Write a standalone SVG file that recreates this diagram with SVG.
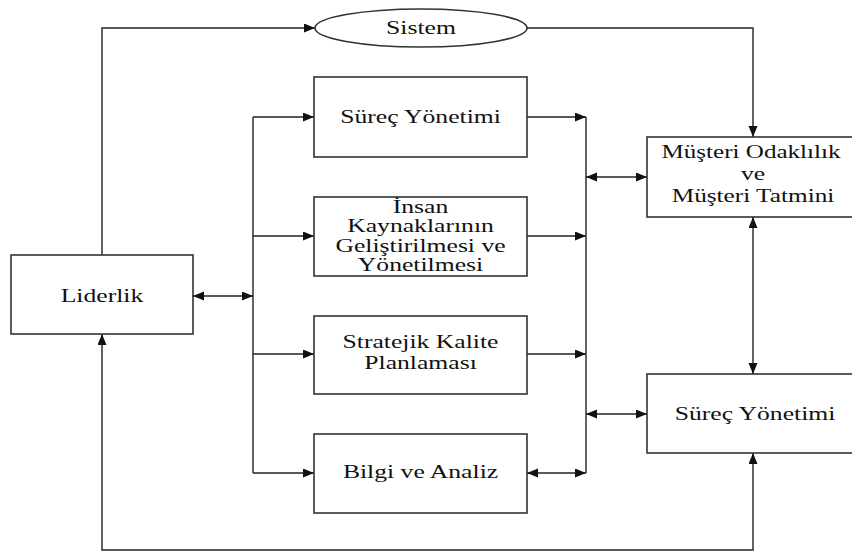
<svg xmlns="http://www.w3.org/2000/svg" width="852" height="552" viewBox="0 0 852 552">
<defs>
<marker id="ah" markerUnits="userSpaceOnUse" markerWidth="12" markerHeight="10" refX="11" refY="4.5" orient="auto-start-reverse">
<path d="M0,0 L11,4.5 L0,9 z" fill="#111"/>
</marker>
</defs>
<style>
.box{fill:#fff;stroke:#333;stroke-width:1.6}
.c{fill:none;stroke:#222;stroke-width:1.4}
.a{marker-end:url(#ah)}
.d{marker-start:url(#ah);marker-end:url(#ah)}
text{font-family:'Liberation Serif','Times New Roman',serif;font-size:19px;fill:#111;text-anchor:middle}
</style>
<rect width="852" height="552" fill="#fff"/>
<g id="connectors">
<path class="c a" d="M102,255 V28 H315"/>
<path class="c a" d="M527,28 H753 V137"/>
<path class="c" d="M253,117 V473"/>
<path class="c a" d="M253,117 H314"/>
<path class="c a" d="M253,236 H314"/>
<path class="c a" d="M253,354 H314"/>
<path class="c a" d="M253,473 H314"/>
<path class="c d" d="M193,296 H253"/>
<path class="c a" d="M527,117 H586"/>
<path class="c a" d="M527,236 H586"/>
<path class="c a" d="M527,354 H586"/>
<path class="c d" d="M527,473 H586"/>
<path class="c" d="M586,117 V473"/>
<path class="c d" d="M586,177 H647"/>
<path class="c d" d="M586,414 H647"/>
<path class="c d" d="M753,217 V374"/>
<path class="c d" d="M753,453 V550 H102 V334"/>
</g>
<g id="sistem">
<ellipse class="box" cx="421" cy="28" rx="106" ry="19"/>
<text transform="translate(421 34) scale(1.35 1)">Sistem</text>
</g>
<g id="surec-yonetimi-1">
<rect class="box" x="314" y="77" width="213" height="80"/>
<text transform="translate(420.5 123) scale(1.35 1)">Süreç Yönetimi</text>
</g>
<g id="insan-kaynaklari">
<rect class="box" x="314" y="197" width="213" height="79"/>
<text transform="translate(420.5 213) scale(1.35 1)">İnsan</text>
<text transform="translate(420.5 232) scale(1.35 1)">Kaynaklarının</text>
<text transform="translate(420.5 252) scale(1.35 1)">Geliştirilmesi ve</text>
<text transform="translate(420.5 271) scale(1.35 1)">Yönetilmesi</text>
</g>
<g id="stratejik">
<rect class="box" x="314" y="316" width="213" height="78"/>
<text transform="translate(420.5 348) scale(1.35 1)">Stratejik Kalite</text>
<text transform="translate(420.5 369) scale(1.35 1)">Planlaması</text>
</g>
<g id="bilgi">
<rect class="box" x="314" y="434" width="213" height="79"/>
<text transform="translate(420.5 478) scale(1.35 1)">Bilgi ve Analiz</text>
</g>
<g id="liderlik">
<rect class="box" x="11" y="255" width="182" height="79"/>
<text transform="translate(102 302) scale(1.35 1)">Liderlik</text>
</g>
<g id="musteri">
<rect class="box" x="647" y="137" width="215" height="80"/>
<text transform="translate(751 158) scale(1.32 1)">Müşteri Odaklılık</text>
<text transform="translate(753 180) scale(1.35 1)">ve</text>
<text transform="translate(753 202) scale(1.33 1)">Müşteri Tatmini</text>
</g>
<g id="surec-yonetimi-2">
<rect class="box" x="647" y="374" width="215" height="79"/>
<text transform="translate(755 420) scale(1.35 1)">Süreç Yönetimi</text>
</g>
</svg>
